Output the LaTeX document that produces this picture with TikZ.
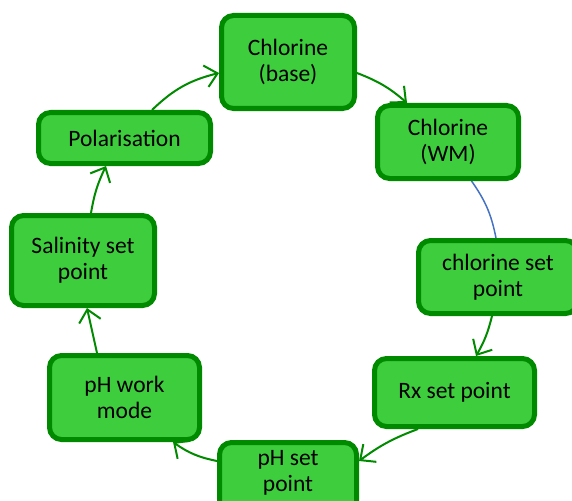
\documentclass[tikz,border=0pt]{standalone}
\usepackage{fontspec}
\setmainfont{Carlito}
\usetikzlibrary{arrows.meta}
\definecolor{boxfill}{RGB}{61,205,61}
\definecolor{boxline}{RGB}{0,138,0}
\definecolor{linkblue}{RGB}{68,114,196}
\tikzset{
  stepbox/.style={draw=boxline, fill=boxfill, line width=5pt, rounded corners=12pt,
    align=center, inner sep=2pt, font=\fontsize{23.5}{26}\selectfont, text=black},
  flow/.style={draw=boxline, line width=2pt,
    -{Straight Barb[length=12pt,width=22pt,line width=2pt]}},
  link/.style={draw=linkblue, line width=1.5pt}
}
\begin{document}
\begin{tikzpicture}[x=1pt,y=-1pt]
\useasboundingbox (0,0) rectangle (572,500);

% stages of the cycle
\node[stepbox, minimum width=133pt, minimum height=93pt] (base) at (288,62) {Chlorine\\(base)};
\node[stepbox, minimum width=141pt, minimum height=73pt] (wm) at (448,142) {Chlorine\\(WM)};
\node[stepbox, minimum width=159pt, minimum height=73pt] (csp) at (498,277) {chlorine set\\point};
\node[stepbox, minimum width=160pt, minimum height=68pt] (rx) at (454.5,392.5) {Rx set point};
\node[stepbox, minimum width=137pt, minimum height=73pt] (phsp) at (288,479) {};
\node[font=\fontsize{23.5}{26}\selectfont, align=center] (phsptext) at (288,473) {pH set\\point};
\node[stepbox, minimum width=150pt, minimum height=84pt] (pwm) at (124.5,397.5) {pH work\\mode};
\node[stepbox, minimum width=143pt, minimum height=90pt] (sal) at (83,260.5) {Salinity set\\point};
\node[stepbox, minimum width=172pt, minimum height=51pt] (polar) at (124.5,138) {Polarisation};

% connectors
\draw[flow] ([xshift=27.5pt]polar.north) to[bend left=15] ([yshift=-11pt]base.west);
\draw[flow] ([yshift=-11pt]base.east) to[bend left=10] ([xshift=-41pt]wm.north);
\draw[link] ([xshift=23.5pt]wm.south) to[bend left=12] ([xshift=-2pt]csp.north);
\draw[flow] ([xshift=-6pt]csp.south) to[bend left=8] ([xshift=21.5pt]rx.north);
\draw[flow] ([xshift=-36.5pt]rx.south) to[bend right=8] ([yshift=18pt]phsp.east);
\draw[flow] ([yshift=18pt]phsp.west) to[bend left=12] ([xshift=48.5pt]pwm.south);
\draw[flow] ([xshift=-27.5pt]pwm.north) to ([xshift=4pt]sal.south);
\draw[flow] ([xshift=8pt]sal.north) to[bend left=8] ([xshift=-18.5pt]polar.south);
\end{tikzpicture}
\end{document}
